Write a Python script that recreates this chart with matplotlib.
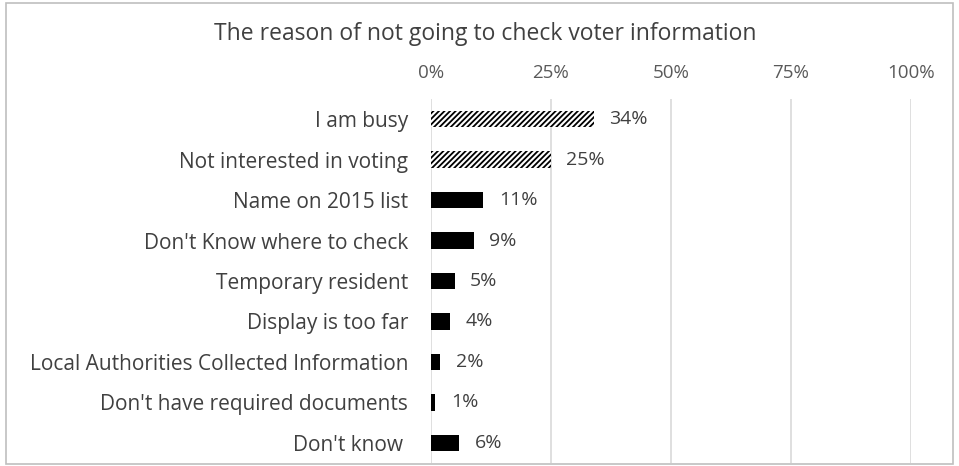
import matplotlib
matplotlib.use("Agg")
import matplotlib.pyplot as plt
from matplotlib.patches import Rectangle

CATEGORIES = [
    "I am busy",
    "Not interested in voting",
    "Name on 2015 list",
    "Don't Know where to check",
    "Temporary resident",
    "Display is too far",
    "Local Authorities Collected Information",
    "Don't have required documents",
    "Don't know ",
]
VALUES = [34, 25, 11, 9, 5, 4, 2, 1, 6]
HATCHED = [True, True, False, False, False, False, False, False, False]
TICKS = [0, 25, 50, 75, 100]

plt.rcParams["font.family"] = ["Open Sans", "DejaVu Sans"]
plt.rcParams["hatch.linewidth"] = 1.3

fig = plt.figure(figsize=(9.59, 4.66), dpi=100)
ax = fig.add_axes([0.449, 0.006, 0.501, 0.782])

ys = list(range(len(CATEGORIES)))
for y, v, h in zip(ys, VALUES, HATCHED):
    if h:
        ax.barh(y, v, height=0.4, color="white", edgecolor="black", hatch="//////", lw=0, zorder=2)
    else:
        ax.barh(y, v, height=0.4, color="black", lw=0, zorder=2)
    ax.text(v + 3.2, y, f"{v}%", va="center", ha="left", fontsize=14, color="#404040")

ax.set_xlim(0, 100)
ax.set_ylim(len(CATEGORIES) - 0.5, -0.5)
ax.set_xticks(TICKS)
ax.set_xticklabels([f"{t}%" for t in TICKS])
ax.xaxis.tick_top()
ax.set_yticks(ys)
ax.set_yticklabels(CATEGORIES)
ax.tick_params(axis="x", length=0, pad=12, labelsize=13.5, labelcolor="#595959")
ax.tick_params(axis="y", length=0, pad=16, labelsize=15, labelcolor="#404040")
ax.grid(axis="x", color="#d9d9d9", lw=1.2, zorder=0)
for s in ax.spines.values():
    s.set_visible(False)

fig.text(0.506, 0.928, "The reason of not going to check voter information",
         ha="center", va="center", fontsize=16.5, color="#404040")
fig.patches.append(Rectangle((0.006, 0.004), 0.988, 0.99, transform=fig.transFigure,
                             fill=False, edgecolor="#bfbfbf", lw=1.2))

fig.savefig("out.png", dpi=100)
